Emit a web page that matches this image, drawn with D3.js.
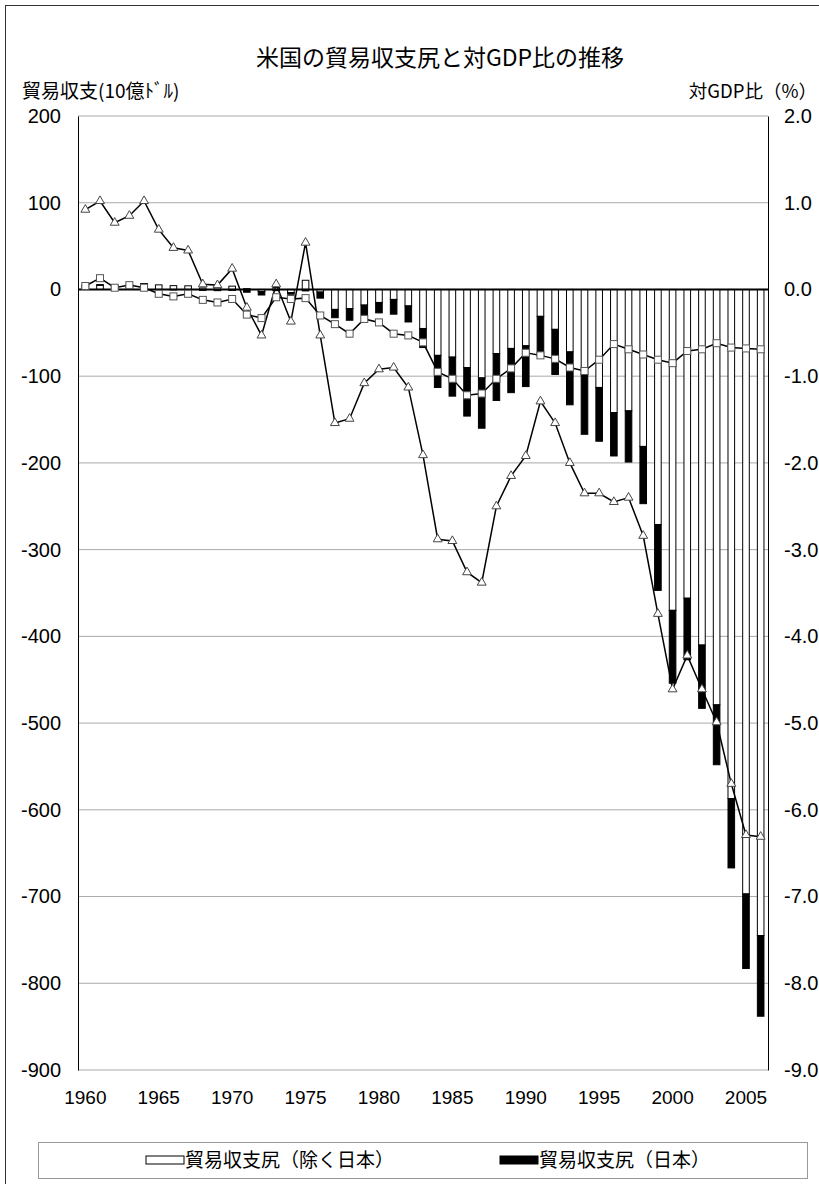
<!DOCTYPE html>
<html>
<head>
<meta charset="utf-8">
<script src="https://cdn.jsdelivr.net/npm/d3@7"></script>
<style>
  body { margin: 0; background: #fff; }
  svg text { font-family: "Liberation Sans", Arial, sans-serif; }
  svg text.jp { font-family: "Noto Sans CJK JP", sans-serif; }
</style>
</head>
<body>
<div class="chart"></div>
<script>
// 年
const years = d3.range(1960, 2007)
// 貿易収支尻（除く日本）10億ドル
const exJapan = [4.6, 4.9, 4.3, 4.8, 6.5, 5.3, 4.4, 4.2, 1.7, 2.0,
  3.8, 0.9, -2.3, 2.3, -3.8, 10.6, -3, -23, -22, -18,
  -15, -11.5, -19, -45, -76, -78, -90, -102, -74, -68,
  -65, -31, -46, -72, -98, -113, -142, -140, -181, -271,
  -370, -356, -410, -479, -587, -697, -745]
// 貿易収支尻（日本）
const japan = [0.3, 0.7, 0.2, 0.4, 0.3, -0.3, -0.6, -0.4, -1.1, -1.4,
  -1.2, -3.2, -4.1, -1.4, -1.7, -1.7, -7, -9.6, -13.5, -11,
  -12, -17, -18.5, -22, -37, -45, -56, -58, -54, -51,
  -47, -46, -52, -61, -69, -62, -50, -59, -66, -76,
  -84, -71, -73, -69, -80, -86, -93]
// 対GDP比（%）三角
const ratioTotal = [0.92, 1.02, 0.77, 0.85, 1.02, 0.69, 0.48, 0.45, 0.06, 0.05,
  0.24, -0.21, -0.53, 0.06, -0.37, 0.54, -0.53, -1.54, -1.49, -1.08,
  -0.92, -0.90, -1.13, -1.91, -2.88, -2.90, -3.26, -3.38, -2.50, -2.15,
  -1.92, -1.29, -1.54, -2.00, -2.35, -2.35, -2.45, -2.40, -2.84, -3.74,
  -4.61, -4.22, -4.61, -4.99, -5.70, -6.29, -6.31]
// 対GDP比（%）四角
const ratioJapan = [0.04, 0.13, 0.02, 0.05, 0.02, -0.05, -0.08, -0.05, -0.12, -0.15,
  -0.11, -0.29, -0.33, -0.09, -0.11, -0.10, -0.30, -0.40, -0.51, -0.34,
  -0.38, -0.51, -0.53, -0.61, -0.95, -1.03, -1.22, -1.20, -1.03, -0.91,
  -0.73, -0.76, -0.80, -0.90, -0.94, -0.81, -0.63, -0.69, -0.75, -0.81,
  -0.85, -0.71, -0.69, -0.62, -0.67, -0.68, -0.69]

const leftTicks = d3.range(200, -901, -100)
const rightTicks = d3.range(2, -9.01, -1)
const xLabels = d3.range(1960, 2006, 5)

const W = 819, H = 1184
const plot = {left: 78, right: 768, top: 116, bottom: 1070}

const svg = d3.select(".chart").append("svg")
  .attr("width", W).attr("height", H)

// 外枠
svg.append("rect")
  .attr("x", 5.5).attr("y", 5.5).attr("width", 900).attr("height", 1300)
  .attr("fill", "none").attr("stroke", "#333").attr("stroke-width", 1)

const x = d3.scaleBand().domain(years)
  .range([plot.left, plot.right])
  .paddingInner(0.55).paddingOuter(0.275)
const y = d3.scaleLinear().domain([200, -900]).range([plot.top, plot.bottom])
const yR = d3.scaleLinear().domain([2, -9]).range([plot.top, plot.bottom])
const cx = d => x(d) + x.bandwidth() / 2
const hyphen = f => d => f(d).replace("\u2212", "-")

// グリッド
svg.append("g").selectAll("line").data(leftTicks.filter(d => d !== 0))
  .enter().append("line")
  .attr("x1", plot.left).attr("x2", plot.right)
  .attr("y1", d => y(d)).attr("y2", d => y(d))
  .attr("stroke", "#aaa").attr("stroke-width", 1)

// 左軸
const yAxis = d3.axisLeft(y).tickValues(leftTicks).tickSize(0).tickPadding(17)
  .tickFormat(hyphen(d3.format("d")))
svg.append("g").attr("transform", `translate(${plot.left},0)`)
  .call(yAxis)
  .call(g => g.select(".domain").attr("stroke", "#000"))
  .selectAll("text").attr("font-size", 20).attr("fill", "#000")

// 右軸
const yAxisR = d3.axisRight(yR).tickValues(rightTicks).tickSize(0).tickPadding(16)
  .tickFormat(hyphen(d3.format(".1f")))
svg.append("g").attr("transform", `translate(${plot.right},0)`)
  .call(yAxisR)
  .call(g => g.select(".domain").attr("stroke", "#000"))
  .selectAll("text").attr("font-size", 20).attr("fill", "#000")

// 横軸ラベル
const xAxis = d3.axisBottom(x).tickValues(xLabels).tickSize(0).tickPadding(21)
svg.append("g").attr("transform", `translate(0,${plot.bottom})`)
  .call(xAxis)
  .call(g => g.select(".domain").remove())
  .selectAll("text").attr("font-size", 19).attr("fill", "#000")

// 積み上げ棒
const rows = years.map((yr, i) => ({year: yr, ex: exJapan[i], jp: japan[i]}))
const stack = d3.stack().keys(["ex", "jp"]).offset(d3.stackOffsetDiverging)(rows)
const fills = {ex: "#fff", jp: "#000"}
const bw = x.bandwidth()

svg.append("g").selectAll("g").data(stack).enter().append("g")
  .attr("fill", d => fills[d.key])
  .selectAll("rect").data(d => d).enter().append("rect")
  .attr("x", d => x(d.data.year))
  .attr("width", bw)
  .attr("y", d => y(Math.max(d[0], d[1])))
  .attr("height", d => Math.abs(y(d[0]) - y(d[1])))
  .attr("stroke", "#000").attr("stroke-width", 1)

// ゼロ線
svg.append("line")
  .attr("x1", plot.left).attr("x2", plot.right)
  .attr("y1", y(0)).attr("y2", y(0))
  .attr("stroke", "#000").attr("stroke-width", 2)

// 折れ線
const line = d3.line().x(d => cx(d[0])).y(d => yR(d[1]))
const triData = years.map((yr, i) => [yr, ratioTotal[i]])
const sqData = years.map((yr, i) => [yr, ratioJapan[i]])

svg.append("path").datum(triData).attr("d", line)
  .attr("fill", "none").attr("stroke", "#000").attr("stroke-width", 1.5)
svg.append("path").datum(sqData).attr("d", line)
  .attr("fill", "none").attr("stroke", "#000").attr("stroke-width", 1.5)

svg.append("g").selectAll("path").data(triData).enter().append("path")
  .attr("d", d3.symbol(d3.symbolTriangle, 34))
  .attr("transform", d => `translate(${cx(d[0])},${yR(d[1])})`)
  .attr("fill", "#fff").attr("stroke", "#444").attr("stroke-width", 1)

svg.append("g").selectAll("rect").data(sqData).enter().append("rect")
  .attr("x", d => cx(d[0]) - 3.5).attr("y", d => yR(d[1]) - 3.5)
  .attr("width", 7).attr("height", 7)
  .attr("fill", "#fff").attr("stroke", "#555").attr("stroke-width", 1)

// タイトル・軸タイトル
svg.append("text").attr("class", "jp")
  .attr("x", 440).attr("y", 66).attr("text-anchor", "middle")
  .attr("font-size", 23).text("米国の貿易収支尻と対GDP比の推移")
svg.append("text").attr("class", "jp")
  .attr("x", 22).attr("y", 98).attr("font-size", 19)
  .text("貿易収支(10億ﾄﾞﾙ)")
svg.append("text").attr("class", "jp")
  .attr("x", 817).attr("y", 98).attr("font-size", 18.5).attr("text-anchor", "end")
  .text("対GDP比（%）")

// 凡例
svg.append("rect").attr("x", 38.5).attr("y", 1142.5).attr("width", 769).attr("height", 36)
  .attr("fill", "#fff").attr("stroke", "#999")
const legend = [
  {label: "貿易収支尻（除く日本）", key: "ex", x: 146},
  {label: "貿易収支尻（日本）", key: "jp", x: 500}
]
const lg = svg.append("g").selectAll("g").data(legend).enter().append("g")
  .attr("transform", d => `translate(${d.x},1156)`)
lg.append("rect").attr("width", 38).attr("height", 8)
  .attr("fill", d => fills[d.key]).attr("stroke", "#000")
lg.append("text").attr("class", "jp").attr("x", 39).attr("y", 11)
  .attr("font-size", 19).text(d => d.label)
</script>
</body>
</html>
